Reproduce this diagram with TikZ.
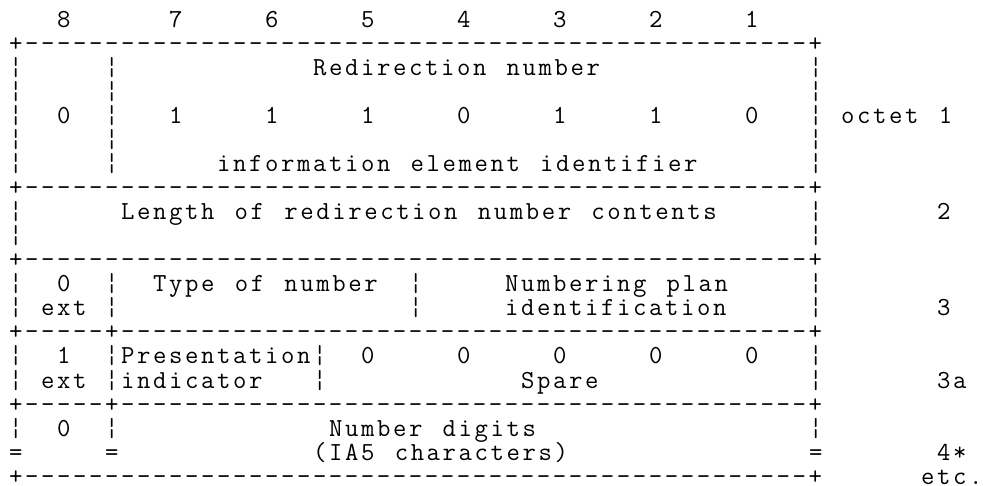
\documentclass[tikz,border=0pt]{standalone}
\usepackage{fontspec}
\setmonofont{Latin Modern Mono}[LetterSpace=10.0, WordSpace=1.264]
\tikzset{ch/.style={font=\ttfamily\fontsize{26pt}{24pt}\selectfont, inner sep=0pt, anchor=base west}}

\begin{document}
\begin{tikzpicture}[x=16pt, y=-24pt]
  \useasboundingbox (-0.5625,-1.1667) rectangle (60.875,19.0833);

  % bit numbers
  \node[ch] (b8) at (3,0) {8};
  \node[ch] (b7) at (10,0) {7};
  \node[ch] (b6) at (16,0) {6};
  \node[ch] (b5) at (22,0) {5};
  \node[ch] (b4) at (28,0) {4};
  \node[ch] (b3) at (34,0) {3};
  \node[ch] (b2) at (40,0) {2};
  \node[ch] (b1) at (46,0) {1};

  % border lines
  \node[ch] (top) at (0,1) {+-------------------------------------------------+};
  \node[ch] (sepa) at (0,7) {+-------------------------------------------------+};
  \node[ch] (sepb) at (0,10) {+-------------------------------------------------+};
  \node[ch] (sepc) at (0,13) {+-----+-------------------------------------------+};
  \node[ch] (sepd) at (0,16) {+-----+-------------------------------------------+};
  \node[ch] (bottom) at (0,19) {+-------------------------------------------------+};

  % side bars
  \foreach \k in {2,3,4,5,6,8,9,11,12,14,15,17} {
    \node[ch] (left\k) at (0,\k) {¦};
    \node[ch] (right\k) at (50,\k) {¦};
  }
  \foreach \k in {2,3,4,5,6,11,12,14,15,17}
    \node[ch] (ext\k) at (6,\k) {¦};
  \foreach \k in {11,12}
    \node[ch] (mid\k) at (25,\k) {¦};
  \foreach \k in {14,15}
    \node[ch] (pre\k) at (19,\k) {¦};
  \node[ch] (lcut) at (0,18) {=};
  \node[ch] (ecut) at (6,18) {=};
  \node[ch] (rcut) at (50,18) {=};

  % octet 1
  \node[ch] (redir) at (19,2) {Redirection number};
  \node[ch] (o8) at (3,4) {0};
  \node[ch] (o7) at (10,4) {1};
  \node[ch] (o6) at (16,4) {1};
  \node[ch] (o5) at (22,4) {1};
  \node[ch] (o4) at (28,4) {0};
  \node[ch] (o3) at (34,4) {1};
  \node[ch] (o2) at (40,4) {1};
  \node[ch] (o1) at (46,4) {0};
  \node[ch] (oct1) at (52,4) {octet 1};
  \node[ch] (iei) at (13,6) {information element identifier};

  % octet 2
  \node[ch] (len) at (7,8) {Length of redirection number contents};
  \node[ch] (oct2) at (58,8) {2};

  % octet 3
  \node[ch] (ext3) at (3,11) {0};
  \node[ch] (extlab3) at (2,12) {ext};
  \node[ch] (ton) at (9,11) {Type of number};
  \node[ch] (npa) at (31,11) {Numbering plan};
  \node[ch] (npb) at (31,12) {identification};
  \node[ch] (oct3) at (58,12) {3};

  % octet 3a
  \node[ch] (ext3a) at (3,14) {1};
  \node[ch] (extlab3a) at (2,15) {ext};
  \node[ch] (pia) at (7,14) {Presentation};
  \node[ch] (pib) at (7,15) {indicator};
  \node[ch] (s5) at (22,14) {0};
  \node[ch] (s4) at (28,14) {0};
  \node[ch] (s3) at (34,14) {0};
  \node[ch] (s2) at (40,14) {0};
  \node[ch] (s1) at (46,14) {0};
  \node[ch] (spare) at (32,15) {Spare};
  \node[ch] (oct3a) at (58,15) {3a};

  % octet 4
  \node[ch] (ext4) at (3,17) {0};
  \node[ch] (nda) at (20,17) {Number digits};
  \node[ch] (ndb) at (19,18) {(IA5 characters)};
  \node[ch] (oct4) at (58,18) {4*};
  \node[ch] (etc) at (57,19) {etc.};
\end{tikzpicture}
\end{document}
